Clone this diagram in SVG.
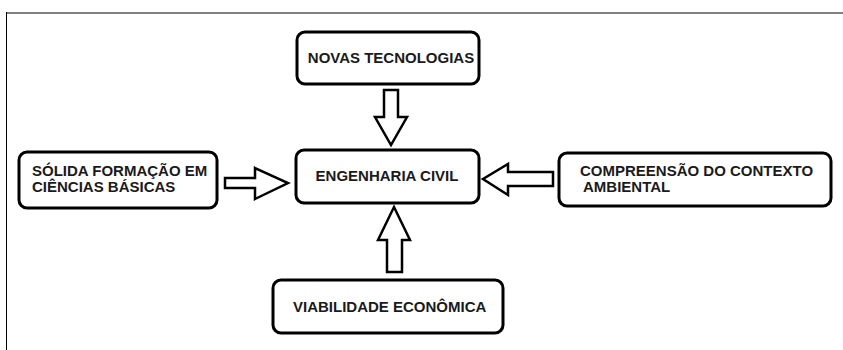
<svg xmlns="http://www.w3.org/2000/svg" width="843" height="350" viewBox="0 0 843 350">
<style>
.box{fill:#fff;stroke:#000;stroke-width:3}
.arr{fill:#fff;stroke:#000;stroke-width:2.5;stroke-linejoin:miter}
.t{font-family:"Liberation Sans",Arial,sans-serif;font-weight:bold;font-size:15px;fill:#1a1a1a}
</style>
<rect x="0" y="0" width="843" height="350" fill="#fff"/>
<g id="frame">
<line x1="6" y1="13" x2="843" y2="13" stroke="#808080" stroke-width="2"/>
<line x1="6.5" y1="12" x2="6.5" y2="350" stroke="#000" stroke-width="1"/>
</g>
<g id="novas">
<rect class="box" x="297" y="32" width="182" height="52" rx="8"/>
<text class="t" x="391" y="63" text-anchor="middle">NOVAS TECNOLOGIAS</text>
</g>
<g id="engenharia">
<rect class="box" x="296" y="150" width="183" height="53" rx="8"/>
<text class="t" x="387" y="181" text-anchor="middle">ENGENHARIA CIVIL</text>
</g>
<g id="solida">
<rect class="box" x="19" y="152" width="198" height="56" rx="8"/>
<text class="t" x="32" y="176">SÓLIDA FORMAÇÃO EM</text>
<text class="t" x="32" y="192">CIÊNCIAS BÁSICAS</text>
</g>
<g id="compreensao">
<rect class="box" x="559" y="153" width="272" height="53" rx="8"/>
<text class="t" x="580" y="176">COMPREENSÃO DO CONTEXTO</text>
<text class="t" x="583" y="192">AMBIENTAL</text>
</g>
<g id="viabilidade">
<rect class="box" x="273" y="280" width="230" height="53" rx="8"/>
<text class="t" x="293" y="312">VIABILIDADE ECONÔMICA</text>
</g>
<g id="connectors">
<path class="arr" d="M384,90 H398 V117 H407 L391,145 L375,117 H384 Z"/>
<path class="arr" d="M394,207 L410,240 H402 V272 H387 V240 H378 Z"/>
<path class="arr" d="M225,178 H255 V168 L288,183 L255,199 V188 H225 Z"/>
<path class="arr" d="M553,172 V186 H508 V195 L483,179 L508,164 V172 Z"/>
</g>
</svg>
